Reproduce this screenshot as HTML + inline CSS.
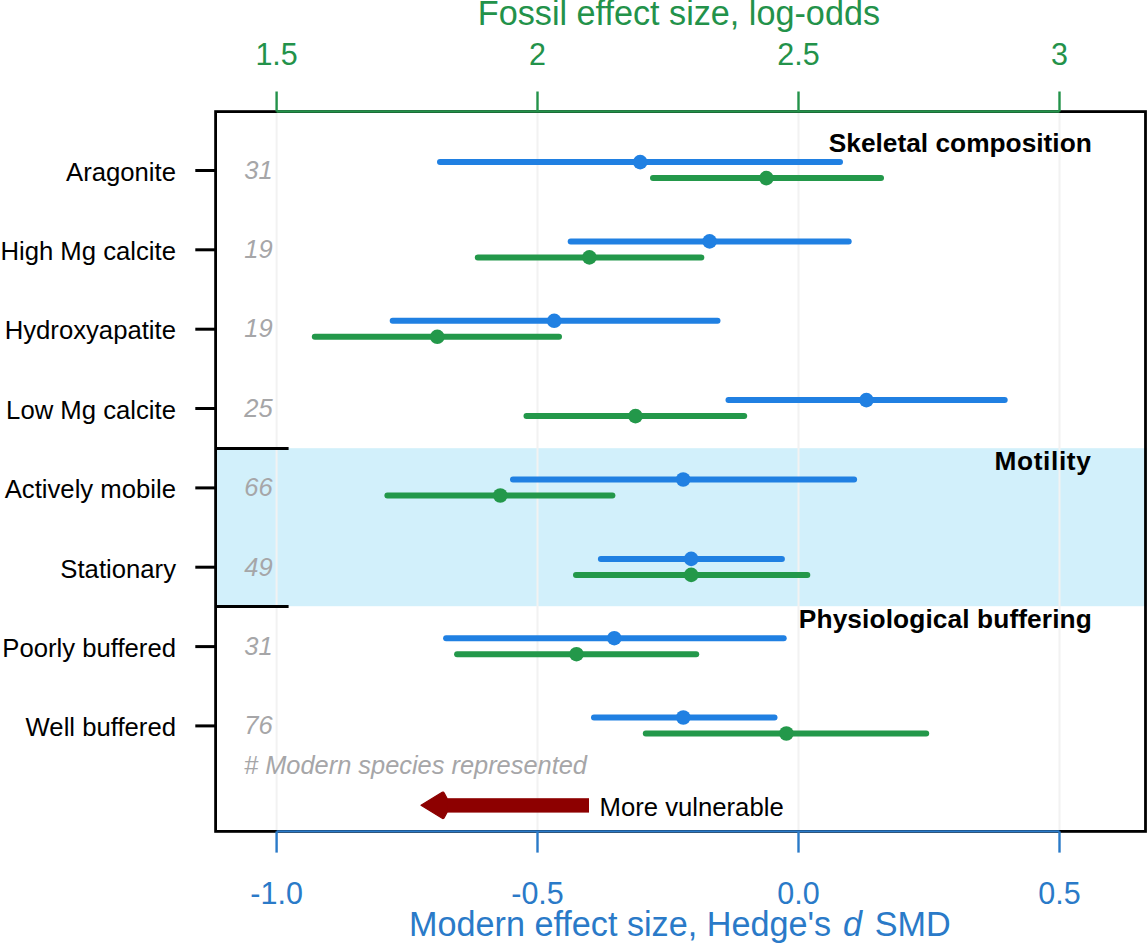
<!DOCTYPE html><html><head><meta charset="utf-8"><style>html,body{margin:0;padding:0;background:#fff;}svg{display:block}text{font-family:"Liberation Sans",sans-serif}</style></head><body>
<svg width="1147" height="943" viewBox="0 0 1147 943">
<rect x="0" y="0" width="1147" height="943" fill="#fff"/>
<rect x="215" y="448.2" width="932" height="158" fill="#d2f0fb"/>
<line x1="276.6" y1="112" x2="276.6" y2="830" stroke="#f2f2f2" stroke-width="2"/>
<line x1="537.5" y1="112" x2="537.5" y2="830" stroke="#f2f2f2" stroke-width="2"/>
<line x1="798.5" y1="112" x2="798.5" y2="830" stroke="#f2f2f2" stroke-width="2"/>
<line x1="1059.5" y1="112" x2="1059.5" y2="830" stroke="#f2f2f2" stroke-width="2"/>
<line x1="215" y1="448.6" x2="288.6" y2="448.6" stroke="#000" stroke-width="3"/>
<line x1="215" y1="606.4" x2="288.6" y2="606.4" stroke="#000" stroke-width="3"/>
<rect x="215.6" y="111.6" width="929.9" height="719.8" fill="none" stroke="#000" stroke-width="2.8"/>
<line x1="276.6" y1="111.5" x2="1059.5" y2="111.5" stroke="#23924a" stroke-width="2.4"/>
<line x1="276.6" y1="91.5" x2="276.6" y2="111.5" stroke="#23924a" stroke-width="2.4"/>
<line x1="537.5" y1="91.5" x2="537.5" y2="111.5" stroke="#23924a" stroke-width="2.4"/>
<line x1="798.5" y1="91.5" x2="798.5" y2="111.5" stroke="#23924a" stroke-width="2.4"/>
<line x1="1059.5" y1="91.5" x2="1059.5" y2="111.5" stroke="#23924a" stroke-width="2.4"/>
<line x1="276.6" y1="831.4" x2="1059.5" y2="831.4" stroke="#2a7ac8" stroke-width="2.4"/>
<line x1="276.6" y1="831.4" x2="276.6" y2="852.6" stroke="#2a7ac8" stroke-width="2.4"/>
<line x1="537.5" y1="831.4" x2="537.5" y2="852.6" stroke="#2a7ac8" stroke-width="2.4"/>
<line x1="798.5" y1="831.4" x2="798.5" y2="852.6" stroke="#2a7ac8" stroke-width="2.4"/>
<line x1="1059.5" y1="831.4" x2="1059.5" y2="852.6" stroke="#2a7ac8" stroke-width="2.4"/>
<text x="276.6" y="64.8" font-size="30.5" fill="#23924a" text-anchor="middle">1.5</text>
<text x="537.5" y="64.8" font-size="30.5" fill="#23924a" text-anchor="middle">2</text>
<text x="798.5" y="64.8" font-size="30.5" fill="#23924a" text-anchor="middle">2.5</text>
<text x="1059.5" y="64.8" font-size="30.5" fill="#23924a" text-anchor="middle">3</text>
<text x="276.6" y="904" font-size="30.5" fill="#2a7ac8" text-anchor="middle">-1.0</text>
<text x="537.5" y="904" font-size="30.5" fill="#2a7ac8" text-anchor="middle">-0.5</text>
<text x="798.5" y="904" font-size="30.5" fill="#2a7ac8" text-anchor="middle">0.0</text>
<text x="1059.5" y="904" font-size="30.5" fill="#2a7ac8" text-anchor="middle">0.5</text>
<text x="477.8" y="24.5" font-size="34.2" fill="#23924a">Fossil effect size, log-odds</text>
<text x="409" y="935.7" font-size="34.2" fill="#2a7ac8">Modern effect size, Hedge's</text>
<text x="843" y="935.7" font-size="34.2" fill="#2a7ac8" font-style="italic">d</text>
<text x="874.7" y="935.7" font-size="34.2" fill="#2a7ac8">SMD</text>
<line x1="195.3" y1="170.5" x2="215" y2="170.5" stroke="#000" stroke-width="3"/>
<text x="176" y="180.7" font-size="25.7" fill="#000" text-anchor="end">Aragonite</text>
<text x="258.5" y="178.7" font-size="25.5" fill="#a6a6a8" font-style="italic" text-anchor="middle">31</text>
<line x1="440.0" y1="162.1" x2="840.0" y2="162.1" stroke="#2080e2" stroke-width="6" stroke-linecap="round"/>
<circle cx="640.2" cy="162.1" r="7.3" fill="#2080e2"/>
<line x1="653.0" y1="178.1" x2="881.0" y2="178.1" stroke="#23984a" stroke-width="6" stroke-linecap="round"/>
<circle cx="766.4" cy="178.1" r="7.3" fill="#23984a"/>
<line x1="195.3" y1="249.8" x2="215" y2="249.8" stroke="#000" stroke-width="3"/>
<text x="176" y="260.1" font-size="25.7" fill="#000" text-anchor="end">High Mg calcite</text>
<text x="258.5" y="258.1" font-size="25.5" fill="#a6a6a8" font-style="italic" text-anchor="middle">19</text>
<line x1="570.7" y1="241.4" x2="848.7" y2="241.4" stroke="#2080e2" stroke-width="6" stroke-linecap="round"/>
<circle cx="709.6" cy="241.4" r="7.3" fill="#2080e2"/>
<line x1="477.8" y1="257.4" x2="701.3" y2="257.4" stroke="#23984a" stroke-width="6" stroke-linecap="round"/>
<circle cx="589.4" cy="257.4" r="7.3" fill="#23984a"/>
<line x1="195.3" y1="329.2" x2="215" y2="329.2" stroke="#000" stroke-width="3"/>
<text x="176" y="339.4" font-size="25.7" fill="#000" text-anchor="end">Hydroxyapatite</text>
<text x="258.5" y="337.4" font-size="25.5" fill="#a6a6a8" font-style="italic" text-anchor="middle">19</text>
<line x1="392.7" y1="320.8" x2="717.5" y2="320.8" stroke="#2080e2" stroke-width="6" stroke-linecap="round"/>
<circle cx="554.2" cy="320.8" r="7.3" fill="#2080e2"/>
<line x1="314.8" y1="336.8" x2="559.0" y2="336.8" stroke="#23984a" stroke-width="6" stroke-linecap="round"/>
<circle cx="437.3" cy="336.8" r="7.3" fill="#23984a"/>
<line x1="195.3" y1="408.5" x2="215" y2="408.5" stroke="#000" stroke-width="3"/>
<text x="176" y="418.7" font-size="25.7" fill="#000" text-anchor="end">Low Mg calcite</text>
<text x="258.5" y="416.7" font-size="25.5" fill="#a6a6a8" font-style="italic" text-anchor="middle">25</text>
<line x1="728.5" y1="400.1" x2="1004.7" y2="400.1" stroke="#2080e2" stroke-width="6" stroke-linecap="round"/>
<circle cx="866.4" cy="400.1" r="7.3" fill="#2080e2"/>
<line x1="526.5" y1="416.1" x2="744.2" y2="416.1" stroke="#23984a" stroke-width="6" stroke-linecap="round"/>
<circle cx="635.5" cy="416.1" r="7.3" fill="#23984a"/>
<line x1="195.3" y1="487.9" x2="215" y2="487.9" stroke="#000" stroke-width="3"/>
<text x="176" y="498.1" font-size="25.7" fill="#000" text-anchor="end">Actively mobile</text>
<text x="258.5" y="496.1" font-size="25.5" fill="#a6a6a8" font-style="italic" text-anchor="middle">66</text>
<line x1="513.0" y1="479.5" x2="854.1" y2="479.5" stroke="#2080e2" stroke-width="6" stroke-linecap="round"/>
<circle cx="683.2" cy="479.5" r="7.3" fill="#2080e2"/>
<line x1="387.4" y1="495.5" x2="612.4" y2="495.5" stroke="#23984a" stroke-width="6" stroke-linecap="round"/>
<circle cx="500.3" cy="495.5" r="7.3" fill="#23984a"/>
<line x1="195.3" y1="567.2" x2="215" y2="567.2" stroke="#000" stroke-width="3"/>
<text x="176" y="577.5" font-size="25.7" fill="#000" text-anchor="end">Stationary</text>
<text x="258.5" y="575.5" font-size="25.5" fill="#a6a6a8" font-style="italic" text-anchor="middle">49</text>
<line x1="600.9" y1="558.9" x2="781.9" y2="558.9" stroke="#2080e2" stroke-width="6" stroke-linecap="round"/>
<circle cx="691.2" cy="558.9" r="7.3" fill="#2080e2"/>
<line x1="576.0" y1="574.9" x2="807.3" y2="574.9" stroke="#23984a" stroke-width="6" stroke-linecap="round"/>
<circle cx="691.2" cy="574.9" r="7.3" fill="#23984a"/>
<line x1="195.3" y1="646.6" x2="215" y2="646.6" stroke="#000" stroke-width="3"/>
<text x="176" y="656.8" font-size="25.7" fill="#000" text-anchor="end">Poorly buffered</text>
<text x="258.5" y="654.8" font-size="25.5" fill="#a6a6a8" font-style="italic" text-anchor="middle">31</text>
<line x1="446.1" y1="638.2" x2="783.7" y2="638.2" stroke="#2080e2" stroke-width="6" stroke-linecap="round"/>
<circle cx="614.3" cy="638.2" r="7.3" fill="#2080e2"/>
<line x1="457.1" y1="654.2" x2="696.2" y2="654.2" stroke="#23984a" stroke-width="6" stroke-linecap="round"/>
<circle cx="576.5" cy="654.2" r="7.3" fill="#23984a"/>
<line x1="195.3" y1="725.9" x2="215" y2="725.9" stroke="#000" stroke-width="3"/>
<text x="176" y="736.1" font-size="25.7" fill="#000" text-anchor="end">Well buffered</text>
<text x="258.5" y="734.1" font-size="25.5" fill="#a6a6a8" font-style="italic" text-anchor="middle">76</text>
<line x1="594.0" y1="717.5" x2="774.5" y2="717.5" stroke="#2080e2" stroke-width="6" stroke-linecap="round"/>
<circle cx="683.3" cy="717.5" r="7.3" fill="#2080e2"/>
<line x1="645.8" y1="733.5" x2="926.2" y2="733.5" stroke="#23984a" stroke-width="6" stroke-linecap="round"/>
<circle cx="786.4" cy="733.5" r="7.3" fill="#23984a"/>
<text x="1091.8" y="152.2" font-size="26.3" font-weight="bold" fill="#000" text-anchor="end" letter-spacing="0">Skeletal composition</text>
<text x="1091.4" y="469.7" font-size="26.3" font-weight="bold" fill="#000" text-anchor="end" letter-spacing="0.6">Motility</text>
<text x="1091.9" y="628.1" font-size="26.3" font-weight="bold" fill="#000" text-anchor="end" letter-spacing="0.1">Physiological buffering</text>
<text x="244" y="773.6" font-size="25.4" fill="#a6a6a8" font-style="italic"># Modern species represented</text>
<rect x="444" y="798.2" width="145" height="14.4" fill="#8d0000"/>
<path d="M421,805.3 L442.2,792.3 Q443.4,791.6 444.2,793 L447,798.4 L447,812.4 L444.2,817.6 Q443.4,819 442.2,818.3 Z" fill="#8d0000" stroke="#8d0000" stroke-width="1.2" stroke-linejoin="round"/>
<text x="599.5" y="815.6" font-size="25.7" fill="#000">More vulnerable</text>
</svg></body></html>
